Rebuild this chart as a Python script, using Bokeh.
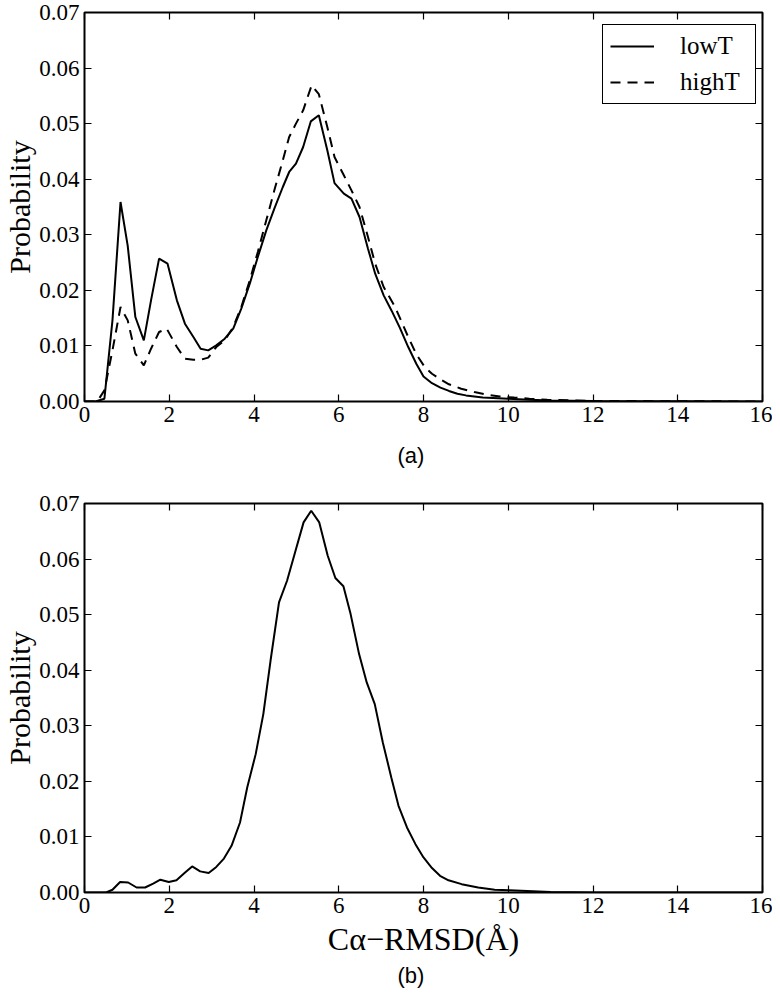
from bokeh.plotting import figure
from bokeh.models import Range1d, FixedTicker, PrintfTickFormatter, LinearAxis, Title, Legend, LegendItem
from bokeh.layouts import column
from bokeh.embed import file_html
from bokeh.resources import INLINE

# ---- data ----
low_x = [0.0, 0.26, 0.47, 0.66, 0.85, 1.02, 1.20, 1.40, 1.57, 1.76, 1.96, 2.18, 2.37, 2.57, 2.74,
         2.92, 3.11, 3.31, 3.51, 3.70, 3.90, 4.09, 4.29, 4.48, 4.68, 4.83, 4.99, 5.16, 5.34, 5.53,
         5.73, 5.90, 6.12, 6.30, 6.49, 6.69, 6.86, 7.06, 7.25, 7.44, 7.64, 7.83, 8.00, 8.20, 8.40,
         8.60, 8.80, 9.00, 9.40, 10.0, 10.5, 11.0, 12.0, 16.0]
low_y = [0.0, 0.0, 0.0005, 0.0146, 0.0359, 0.0280, 0.0152, 0.0110, 0.0182, 0.0257, 0.0248, 0.0182,
         0.0140, 0.0116, 0.0095, 0.0092, 0.0101, 0.0113, 0.0131, 0.0167, 0.0212, 0.0260, 0.0308,
         0.0347, 0.0386, 0.0413, 0.0428, 0.0458, 0.0504, 0.0515, 0.0452, 0.0393, 0.0374, 0.0365,
         0.0332, 0.0275, 0.0230, 0.0191, 0.0163, 0.0133, 0.0098, 0.0068, 0.0045, 0.0033, 0.0025,
         0.0019, 0.0014, 0.0011, 0.0007, 0.0005, 0.0003, 0.0002, 0.0001, 0.0]

high_x = [0.0, 0.30, 0.47, 0.66, 0.85, 1.02, 1.20, 1.40, 1.57, 1.76, 1.94, 2.18, 2.37, 2.57, 2.74,
          2.92, 3.11, 3.31, 3.51, 3.70, 3.90, 4.09, 4.29, 4.48, 4.68, 4.83, 4.99, 5.16, 5.36, 5.53,
          5.73, 5.90, 6.12, 6.30, 6.49, 6.69, 6.86, 7.06, 7.33, 7.64, 7.83, 8.03, 8.20, 8.42, 8.60,
          8.89, 9.20, 9.44, 9.80, 10.14, 10.50, 10.92, 11.5, 12.0, 16.0]
high_y = [0.0, 0.0, 0.0020, 0.0092, 0.0170, 0.0146, 0.0086, 0.0065, 0.0095, 0.0125, 0.0131, 0.0098,
          0.0077, 0.0075, 0.0075, 0.0079, 0.0098, 0.0110, 0.0134, 0.0170, 0.0218, 0.0269, 0.0326,
          0.0380, 0.0434, 0.0476, 0.0500, 0.0524, 0.0569, 0.0553, 0.0494, 0.0440, 0.0407, 0.0380,
          0.0350, 0.0296, 0.0248, 0.0206, 0.0170, 0.0116, 0.0085, 0.0062, 0.0050, 0.0039, 0.0031,
          0.0023, 0.0017, 0.0013, 0.0009, 0.0007, 0.0005, 0.0003, 0.0002, 0.0001, 0.0]

b_x = [0.0, 0.51, 0.66, 0.84, 1.03, 1.23, 1.43, 1.62, 1.79, 1.99, 2.17, 2.36, 2.54, 2.73, 2.93,
       3.11, 3.29, 3.47, 3.67, 3.84, 4.04, 4.22, 4.39, 4.59, 4.78, 4.98, 5.17, 5.35, 5.54, 5.74,
       5.92, 6.11, 6.28, 6.48, 6.66, 6.85, 7.04, 7.24, 7.41, 7.61, 7.81, 8.00, 8.20, 8.39, 8.59,
       8.90, 9.29, 9.68, 10.03, 11.0, 12.0, 16.0]
b_y = [0.0, 0.0, 0.0005, 0.0019, 0.0018, 0.0009, 0.0009, 0.0016, 0.0023, 0.0019, 0.0022, 0.0035,
       0.0047, 0.0038, 0.0035, 0.0046, 0.0061, 0.0084, 0.0126, 0.0189, 0.0249, 0.0321, 0.0417,
       0.0522, 0.0561, 0.0615, 0.0666, 0.0687, 0.0666, 0.0606, 0.0566, 0.0551, 0.0501, 0.0429,
       0.0378, 0.0339, 0.0270, 0.0207, 0.0156, 0.0117, 0.0087, 0.0063, 0.0044, 0.0030, 0.0022,
       0.0015, 0.0009, 0.0005, 0.0004, 0.0001, 0.0, 0.0]

x_ticks = [0, 2, 4, 6, 8, 10, 12, 14, 16]
y_ticks = [0.00, 0.01, 0.02, 0.03, 0.04, 0.05, 0.06, 0.07]
series_names = ["lowT", "highT"]
panel_tags = ["(a)", "(b)"]
y_title = "Probability"
x_title = "C\u03b1\u2212RMSD(\u00c5)"

SERIF = "Liberation Serif"
SANS = "Liberation Sans"


def style_axis(ax, ticks, show_labels=True):
    ax.ticker = FixedTicker(ticks=ticks)
    ax.axis_line_color = None
    ax.major_tick_in = 7
    ax.major_tick_out = 0
    ax.major_tick_line_color = "black"
    ax.major_tick_line_width = 1.2
    ax.minor_tick_line_color = None
    ax.major_label_text_font = SERIF
    if show_labels:
        ax.major_label_text_color = "black"
        ax.major_label_text_font_size = "23px"
        ax.major_label_standoff = 5
    else:
        # mirrored tick marks only: no tick labels on the top / right sides
        ax.major_label_text_color = None
        ax.major_label_text_font_size = "1px"
        ax.major_label_standoff = 0


def make_fig(height, min_top, min_bottom):
    p = figure(width=772, height=height, x_range=Range1d(0, 16), y_range=Range1d(0, 0.07),
               output_backend="svg", toolbar_location=None,
               min_border_left=79, min_border_right=10,
               min_border_top=min_top, min_border_bottom=min_bottom)
    p.grid.visible = False
    p.outline_line_color = "black"
    p.outline_line_width = 2
    p.outline_line_alpha = 1.0
    p.background_fill_color = "white"
    p.border_fill_color = "white"
    xb = p.below[0]
    yl = p.left[0]
    style_axis(xb, x_ticks)
    style_axis(yl, y_ticks)
    yl.formatter = PrintfTickFormatter(format="%.2f")
    yl.axis_label = y_title
    yl.axis_label_text_font = SERIF
    yl.axis_label_text_font_size = "30px"
    yl.axis_label_text_font_style = "normal"
    yl.axis_label_text_color = "black"
    yl.axis_label_standoff = 0
    top_ax = LinearAxis()
    style_axis(top_ax, x_ticks, show_labels=False)
    p.add_layout(top_ax, "above")
    right_ax = LinearAxis()
    style_axis(right_ax, y_ticks, show_labels=False)
    p.add_layout(right_ax, "right")
    return p


def below_title(p, text, font, size, standoff, align="left", offset=0):
    t = Title(text=text, align=align, offset=offset, vertical_align="bottom",
              standoff=standoff, text_font=font, text_font_size=size,
              text_font_style="normal", text_color="black")
    p.add_layout(t, "below")


# ---- top panel (a): frame y 12..401 ----
pa = make_fig(486, 12, 85)
r_low = pa.line(low_x, low_y, line_color="black", line_width=2)
r_high = pa.line(high_x, high_y, line_color="black", line_width=2, line_dash="10 7")
legend = Legend(items=[LegendItem(label=series_names[0], renderers=[r_low]),
                       LegendItem(label=series_names[1], renderers=[r_high])],
                location=(518, 297))
legend.margin = 0
legend.padding = 7
legend.spacing = 8
legend.glyph_width = 44
legend.glyph_height = 26
legend.label_height = 26
legend.label_width = 68
legend.label_standoff = 26
legend.label_text_font = SERIF
legend.label_text_font_size = "25px"
legend.label_text_color = "black"
legend.border_line_color = "black"
legend.border_line_width = 1.5
legend.border_line_alpha = 1.0
legend.background_fill_color = "white"
legend.background_fill_alpha = 1.0
pa.add_layout(legend, "center")
below_title(pa, panel_tags[0], SANS, "22px", 33, offset=313)

# ---- bottom panel (b): frame y 503..892 ----
pb = make_fig(506, 17, 100)
pb.line(b_x, b_y, line_color="black", line_width=2)
below_title(pb, x_title, SERIF, "32px", 7, align="center")
below_title(pb, panel_tags[1], SANS, "22px", 0, offset=313)

layout = column(pa, pb, spacing=0)
open("out.html", "w").write(file_html(layout, INLINE))
